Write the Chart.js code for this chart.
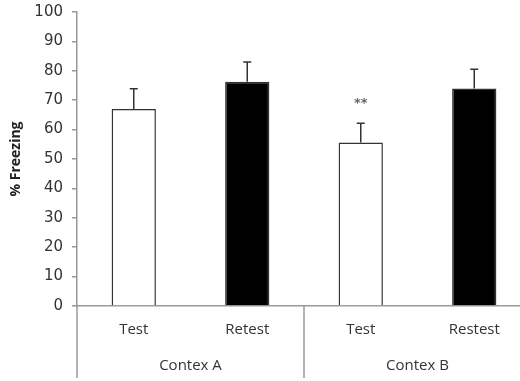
<!DOCTYPE html>
<html>
<head>
<meta charset="utf-8">
<script src="https://cdn.jsdelivr.net/npm/chart.js@4/dist/chart.umd.min.js"></script>
<style>
  html, body { margin: 0; padding: 0; background: #fff; overflow: hidden; }
  #wrap { width: 531px; height: 381px; }
</style>
</head>
<body>
<div id="wrap"><canvas id="freezeChart" width="531" height="381"></canvas></div>
<script>
// data
const categories = ['Test', 'Retest', 'Test', 'Restest'];
const groups = ['Contex A', 'Contex B'];
const freezing = [67, 76.3, 55.6, 74];
const errorTop = [73.9, 83, 62.2, 80.5];
const stars = ['', '', '**', ''];
const yTicks = [0, 10, 20, 30, 40, 50, 60, 70, 80, 90, 100];
const barColors = ['#ffffff', '#000000', '#ffffff', '#000000'];

// error bars, significance marks and the two-level category axis
const extrasPlugin = {
    id: 'extras',
    afterDatasetsDraw(chart) {
        const ctx = chart.ctx;
        const x = chart.scales.x, y = chart.scales.y;
        const area = chart.chartArea;
        ctx.save();
        // error bars
        ctx.strokeStyle = '#333';
        ctx.lineWidth = 1.5;
        for (let i = 0; i < freezing.length; i++) {
            let cx = x.getPixelForValue(i);
            let y0 = y.getPixelForValue(freezing[i]);
            let y1 = y.getPixelForValue(errorTop[i]);
            ctx.beginPath();
            ctx.moveTo(cx, y0);
            ctx.lineTo(cx, y1);
            ctx.moveTo(cx - 4, y1);
            ctx.lineTo(cx + 4, y1);
            ctx.stroke();
            if (stars[i]) {
                ctx.fillStyle = '#666';
                ctx.font = 'bold 13px "DejaVu Sans"';
                ctx.textAlign = 'center';
                ctx.textBaseline = 'middle';
                ctx.fillText(stars[i], cx, y1 - 20);
            }
        }
        // category axis extension & separators
        ctx.strokeStyle = '#999';
        ctx.lineWidth = 1.5;
        let bottom = chart.height - 3;
        ctx.beginPath();
        ctx.moveTo(area.left, area.bottom);
        ctx.lineTo(area.left, bottom);
        let perGroup = categories.length / groups.length;
        for (let g = 1; g < groups.length; g++) {
            let sx = (x.getPixelForValue(g * perGroup - 1) + x.getPixelForValue(g * perGroup)) / 2;
            ctx.moveTo(sx, area.bottom);
            ctx.lineTo(sx, bottom);
        }
        ctx.stroke();
        // labels
        ctx.fillStyle = '#333';
        ctx.font = '15px "Open Sans"';
        ctx.textAlign = 'center';
        ctx.textBaseline = 'middle';
        for (let i = 0; i < categories.length; i++) {
            ctx.fillText(categories[i], x.getPixelForValue(i), area.bottom + 24);
        }
        for (let g = 0; g < groups.length; g++) {
            let a = x.getPixelForValue(g * perGroup);
            let b = x.getPixelForValue((g + 1) * perGroup - 1);
            ctx.fillText(groups[g], (a + b) / 2, area.bottom + 60);
        }
        ctx.restore();
    }
};

let freezeChart = new Chart(document.getElementById('freezeChart').getContext('2d'), {
    type: 'bar',
    data: {
        labels: categories,
        datasets: [{
            data: freezing,
            backgroundColor: barColors,
            borderColor: '#333',
            borderWidth: 1.5,
            categoryPercentage: 1,
            barPercentage: 0.39
        }]
    },
    options: {
        responsive: false,
        animation: false,
        layout: { padding: { top: 12, right: 0, left: 8, bottom: 0 } },
        plugins: {
            legend: { display: false },
            tooltip: { enabled: false }
        },
        scales: {
            x: {
                grid: { display: false, drawTicks: false },
                border: { color: '#999', width: 1.5 },
                ticks: { display: false },
                afterFit: (scale) => { scale.height = 75; }
            },
            y: {
                min: 0,
                max: 100,
                afterBuildTicks: (scale) => { scale.ticks = yTicks.map(v => ({ value: v })); },
                grid: { display: true, drawOnChartArea: false, drawTicks: true, tickLength: 5, tickColor: '#999', lineWidth: 1.5 },
                border: { color: '#999', width: 1.5 },
                ticks: {
                    color: '#333',
                    padding: 9,
                    font: { family: 'DejaVu Sans', size: 15 }
                },
                title: {
                    display: true,
                    text: '% Freezing',
                    color: '#222',
                    font: { family: 'Open Sans', size: 14, weight: 'bold' },
                    padding: { top: 0, bottom: 2 }
                },
                afterFit: (scale) => { scale.width = 69; scale.paddingTop = 0; scale.paddingBottom = 0; }
            }
        }
    },
    plugins: [extrasPlugin]
});
</script>
</body>
</html>
